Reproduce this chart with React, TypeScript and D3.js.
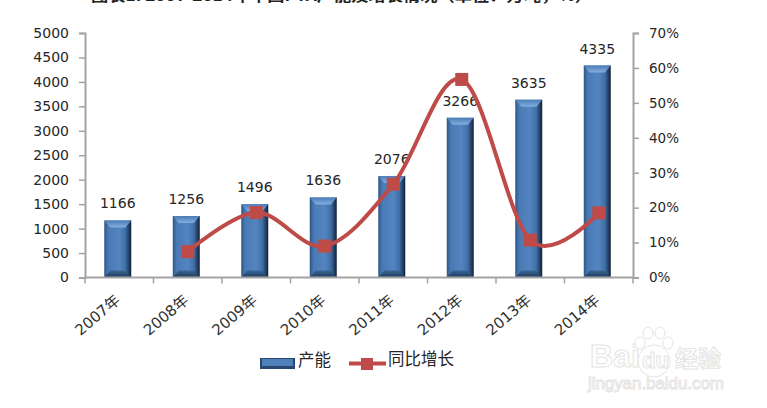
import React, { useEffect, useRef } from 'react';
import * as d3 from 'd3';

const years = ['2007年', '2008年', '2009年', '2010年', '2011年', '2012年', '2013年', '2014年'];
const capacity = [1166, 1256, 1496, 1636, 2076, 3266, 3635, 4335];
const growth = [null, 7.4, 18.6, 9.0, 26.7, 56.7, 10.7, 18.5];
const leftTicks = [0, 500, 1000, 1500, 2000, 2500, 3000, 3500, 4000, 4500, 5000];
const rightTicks = [0, 10, 20, 30, 40, 50, 60, 70];
const legendLabels = ['产能', '同比增长'];
const title = '图表1: 2007-2014年中国PTA产能及增长情况（单位：万吨，%）';

const fontFamily = '"DejaVu Sans", "Noto Sans CJK SC", sans-serif';
const cjkFont = '"Noto Sans CJK SC", sans-serif';
const axisColor = '#a3a3a3';
const lineColor = '#be4b48';

export default function App() {
    const ref = useRef<SVGSVGElement | null>(null);

    useEffect(() => {
        const svg = d3.select(ref.current);
        svg.selectAll('*').remove();
        const left = 85, right = 633, top = 33, bottom = 277.5;

        const x = d3.scaleBand().domain(years).range([left, right]);
        const y = d3.scaleLinear().domain([0, 5000]).range([bottom, top]);
        const y2 = d3.scaleLinear().domain([0, 70]).range([bottom, top]);
        const barW = 27;

        const defs = svg.append('defs');
        const grad = defs.append('linearGradient').attr('id', 'barFill');
        grad.append('stop').attr('offset', '0%').attr('stop-color', '#2f5685');
        grad.append('stop').attr('offset', '15%').attr('stop-color', '#4a7ab5');
        grad.append('stop').attr('offset', '55%').attr('stop-color', '#5485c0');
        grad.append('stop').attr('offset', '78%').attr('stop-color', '#4070a8');
        grad.append('stop').attr('offset', '100%').attr('stop-color', '#101f35');

        const topGrad = defs.append('linearGradient').attr('id', 'barTop').attr('x2', 0).attr('y2', 1);
        topGrad.append('stop').attr('offset', '0%').attr('stop-color', '#4a7cb6');
        topGrad.append('stop').attr('offset', '100%').attr('stop-color', '#85aee0');

        const baseGrad = defs.append('linearGradient').attr('id', 'barBase').attr('x2', 0).attr('y2', 1);
        baseGrad.append('stop').attr('offset', '0%').attr('stop-color', '#3a6595');
        baseGrad.append('stop').attr('offset', '100%').attr('stop-color', '#1e3a5c');

        svg.append('text')
            .attr('x', 91).attr('y', 0.5)
            .attr('font-family', cjkFont).attr('font-size', 14).attr('font-weight', 700)
            .attr('textLength', 501).attr('lengthAdjust', 'spacingAndGlyphs')
            .attr('fill', '#222')
            .text(title);

        // bars
        const bars = svg.append('g').selectAll('g').data(years).join('g');
        const barX = (d: string) => x(d)! + (x.bandwidth() - barW) / 2 - 1.5;
        const barY = (i: number) => y(capacity[i]);
        bars.append('rect')
            .attr('x', d => barX(d))
            .attr('y', (d, i) => barY(i))
            .attr('width', barW)
            .attr('height', (d, i) => bottom - barY(i))
            .attr('fill', 'url(#barFill)');
        bars.append('path')
            .attr('fill', 'url(#barTop)')
            .attr('d', (d, i) => {
                const bx = barX(d), by = barY(i);
                return `M${bx},${by}h${barW}l-6,7h-${barW - 12}z`;
            });
        bars.append('path')
            .attr('fill', 'url(#barBase)')
            .attr('d', d => {
                const bx = barX(d);
                return `M${bx},${bottom}h${barW}l-6,-7h-${barW - 12}z`;
            });

        // axes
        const styleAxis = (g: any) => {
            g.selectAll('path').attr('stroke', axisColor).attr('stroke-width', 2);
            g.selectAll('line').attr('stroke', axisColor).attr('stroke-width', 1.5);
            g.selectAll('text')
                .attr('font-family', fontFamily).attr('font-size', 14).attr('fill', '#262626');
        };
        svg.append('g').attr('transform', `translate(${left},0)`)
            .call(d3.axisLeft(y).tickValues(leftTicks).tickFormat(d3.format('d') as any).tickSize(6).tickPadding(10) as any)
            .call(styleAxis);
        svg.append('g').attr('transform', `translate(${right},0)`)
            .call(d3.axisRight(y2).tickValues(rightTicks).tickFormat((d: any) => `${d}%`).tickSize(6).tickPadding(10) as any)
            .call(styleAxis)
            .call((g: any) => g.selectAll('text').attr('font-size', 13.5));

        const xAxis = svg.append('g').attr('transform', `translate(0,${bottom})`);
        xAxis.append('line')
            .attr('x1', left).attr('x2', right)
            .attr('stroke', axisColor).attr('stroke-width', 2);
        xAxis.selectAll('line.tick')
            .data(d3.range(years.length + 1)).join('line')
            .attr('class', 'tick')
            .attr('x1', i => left + i * x.step()).attr('x2', i => left + i * x.step())
            .attr('y1', 0).attr('y2', 6)
            .attr('stroke', axisColor).attr('stroke-width', 1.5);
        xAxis.selectAll('text').data(years).join('text')
            .attr('transform', d => `translate(${x(d)! + x.bandwidth() / 2 - 1},${21}) rotate(-40)`)
            .attr('text-anchor', 'end')
            .attr('dominant-baseline', 'middle')
            .attr('font-family', fontFamily).attr('font-size', 15).attr('fill', '#303030')
            .text(d => d);

        // growth line
        const pts = years
            .map((d, i) => ({ year: d, v: growth[i] }))
            .filter(p => p.v !== null) as { year: string; v: number }[];
        const px = (p: { year: string }) => x(p.year)! + x.bandwidth() / 2;
        const line = d3.line<{ year: string; v: number }>()
            .x(px)
            .y(p => y2(p.v))
            .curve(d3.curveCardinal.tension(0));

        // value labels go under the line
        svg.append('g').selectAll('text').data(years).join('text')
            .attr('x', d => x(d)! + x.bandwidth() / 2 - 1.5)
            .attr('y', (d, i) => barY(i) - 12)
            .attr('text-anchor', 'middle')
            .attr('font-family', fontFamily).attr('font-size', 14).attr('fill', '#262626')
            .text((d, i) => capacity[i]);

        svg.append('path')
            .datum(pts)
            .attr('fill', 'none')
            .attr('stroke', lineColor)
            .attr('stroke-width', 4)
            .attr('stroke-linecap', 'round')
            .attr('d', line as any);
        svg.append('g').selectAll('rect').data(pts).join('rect')
            .attr('x', p => px(p) - 6.5)
            .attr('y', p => y2(p.v) - 6.5)
            .attr('width', 13).attr('height', 13)
            .attr('fill', lineColor);

        // legend
        const legend = svg.append('g');
        legend.append('rect')
            .attr('x', 260).attr('y', 358).attr('width', 35).attr('height', 11)
            .attr('fill', '#28486f');
        legend.append('rect')
            .attr('x', 262).attr('y', 359).attr('width', 31).attr('height', 7)
            .attr('fill', '#4f80bc');
        legend.append('text')
            .attr('x', 298).attr('y', 362)
            .attr('dominant-baseline', 'middle')
            .attr('font-family', cjkFont).attr('font-size', 16.5).attr('fill', '#262626')
            .text(legendLabels[0]);
        legend.append('line')
            .attr('x1', 349).attr('x2', 386).attr('y1', 363.5).attr('y2', 363.5)
            .attr('stroke', lineColor).attr('stroke-width', 4);
        legend.append('rect')
            .attr('x', 361).attr('y', 358).attr('width', 12).attr('height', 12)
            .attr('fill', lineColor);
        legend.append('text')
            .attr('x', 388).attr('y', 361)
            .attr('dominant-baseline', 'middle')
            .attr('font-family', cjkFont).attr('font-size', 16.5).attr('fill', '#262626')
            .text(legendLabels[1]);

        // watermark
        const mark = svg.append('g').attr('fill', '#fff').attr('stroke', '#e4e4e4').attr('stroke-width', 1);
        mark.append('text')
            .attr('x', 590).attr('y', 367)
            .attr('font-family', '"Liberation Sans", sans-serif').attr('font-size', 32).attr('font-weight', 700)
            .text('Bai');
        mark.append('circle').attr('cx', 654).attr('cy', 361).attr('r', 16);
        mark.append('text')
            .attr('x', 642).attr('y', 368)
            .attr('font-family', '"Liberation Sans", sans-serif').attr('font-size', 22).attr('font-weight', 700)
            .text('du');
        mark.selectAll('ellipse').data([-14, -6, 6, 14]).join('ellipse')
            .attr('cx', d => 654 + d)
            .attr('cy', d => (Math.abs(d) > 10 ? 343 : 333))
            .attr('rx', 5).attr('ry', 6);
        mark.append('text')
            .attr('x', 675).attr('y', 367)
            .attr('font-family', cjkFont).attr('font-size', 23).attr('font-weight', 700)
            .text('经验');
        mark.append('text')
            .attr('x', 588).attr('y', 389)
            .attr('font-family', '"Liberation Sans", sans-serif').attr('font-size', 17)
            .attr('textLength', 136)
            .text('jingyan.baidu.com');
    }, []);

    return (
        <svg
            ref={ref}
            width={767}
            height={408}
            style={{ position: 'absolute', left: 0, top: 0, background: '#fff' }}
        />
    );
}
